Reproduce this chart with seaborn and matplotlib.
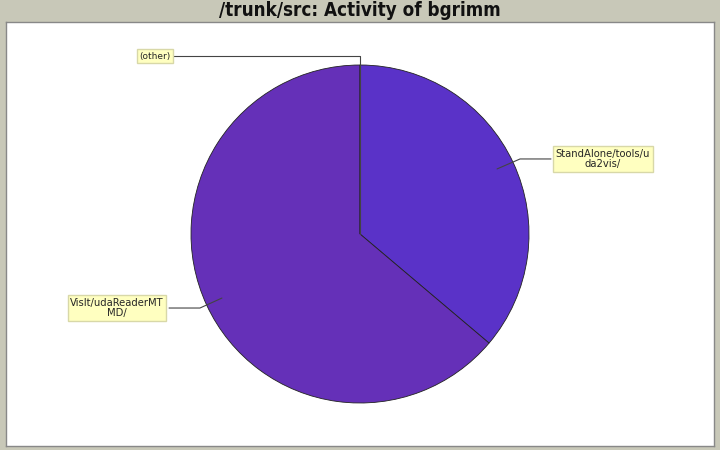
import matplotlib
matplotlib.use('Agg')
import matplotlib.pyplot as plt
import seaborn as sns

sns.set_style('white')
plt.rcParams['font.family'] = ['DejaVu Sans']

# data
paths = ['StandAlone/tools/uda2vis/', 'VisIt/udaReaderMTMD/', '(other)']
commits = [17, 30, 0]
label_texts = ['StandAlone/tools/u\nda2vis/', 'VisIt/udaReaderMT\nMD/', '(other)']
colors = ['#5a32c8', '#6530b8', '#6e3cc8']

fig = plt.figure(figsize=(7.2, 4.5), dpi=100)
fig.patch.set_facecolor('#c8c8b8')

# plot area: pixels 6..714 x 22..446
ax = fig.add_axes([6 / 720, 4 / 450, 708 / 720, 424 / 450])

ax.pie(commits, colors=colors, startangle=90, counterclock=False,
       radius=1.0, frame=True,
       wedgeprops=dict(edgecolor='#222222', linewidth=0.6))
ax.set_facecolor('white')
ax.patch.set_visible(True)
for s in ax.spines.values():
    s.set_visible(True)
    s.set_color('#888888')
    s.set_linewidth(1)
ax.set_xlim(-354 / 169, 354 / 169)
ax.set_ylim(-212 / 169, 212 / 169)
ax.set_aspect('equal')
ax.set_xticks([])
ax.set_yticks([])

box = dict(boxstyle='square,pad=0.25', fc='#ffffc0', ec='#d8d8a8', lw=1)
line_kw = dict(color='#444444', lw=0.8)

# StandAlone label
ax.plot([0.811, 0.947, 1.13], [0.385, 0.444, 0.444], **line_kw)
ax.text(1.438, 0.444, label_texts[0], ha='center', va='center',
        fontsize=7.2, linespacing=1.1, bbox=box)
# VisIt label
ax.plot([-0.817, -0.947, -1.13], [-0.379, -0.438, -0.438], **line_kw)
ax.text(-1.438, -0.438, label_texts[1], ha='center', va='center',
        fontsize=7.2, linespacing=1.1, bbox=box)
# (other) label
ax.plot([-1.11, 0.0, 0.0], [1.053, 1.053, 0.0], **line_kw)
ax.text(-1.213, 1.053, label_texts[2], ha='center', va='center',
        fontsize=6.5, bbox=box)

fig.text(0.5, 1 - 11 / 450, '/trunk/src: Activity of bgrimm', ha='center',
         va='center', fontsize=13.5, fontweight='bold', fontstretch='condensed',
         color='#111111')

fig.savefig('out.png', dpi=100, facecolor=fig.get_facecolor())
